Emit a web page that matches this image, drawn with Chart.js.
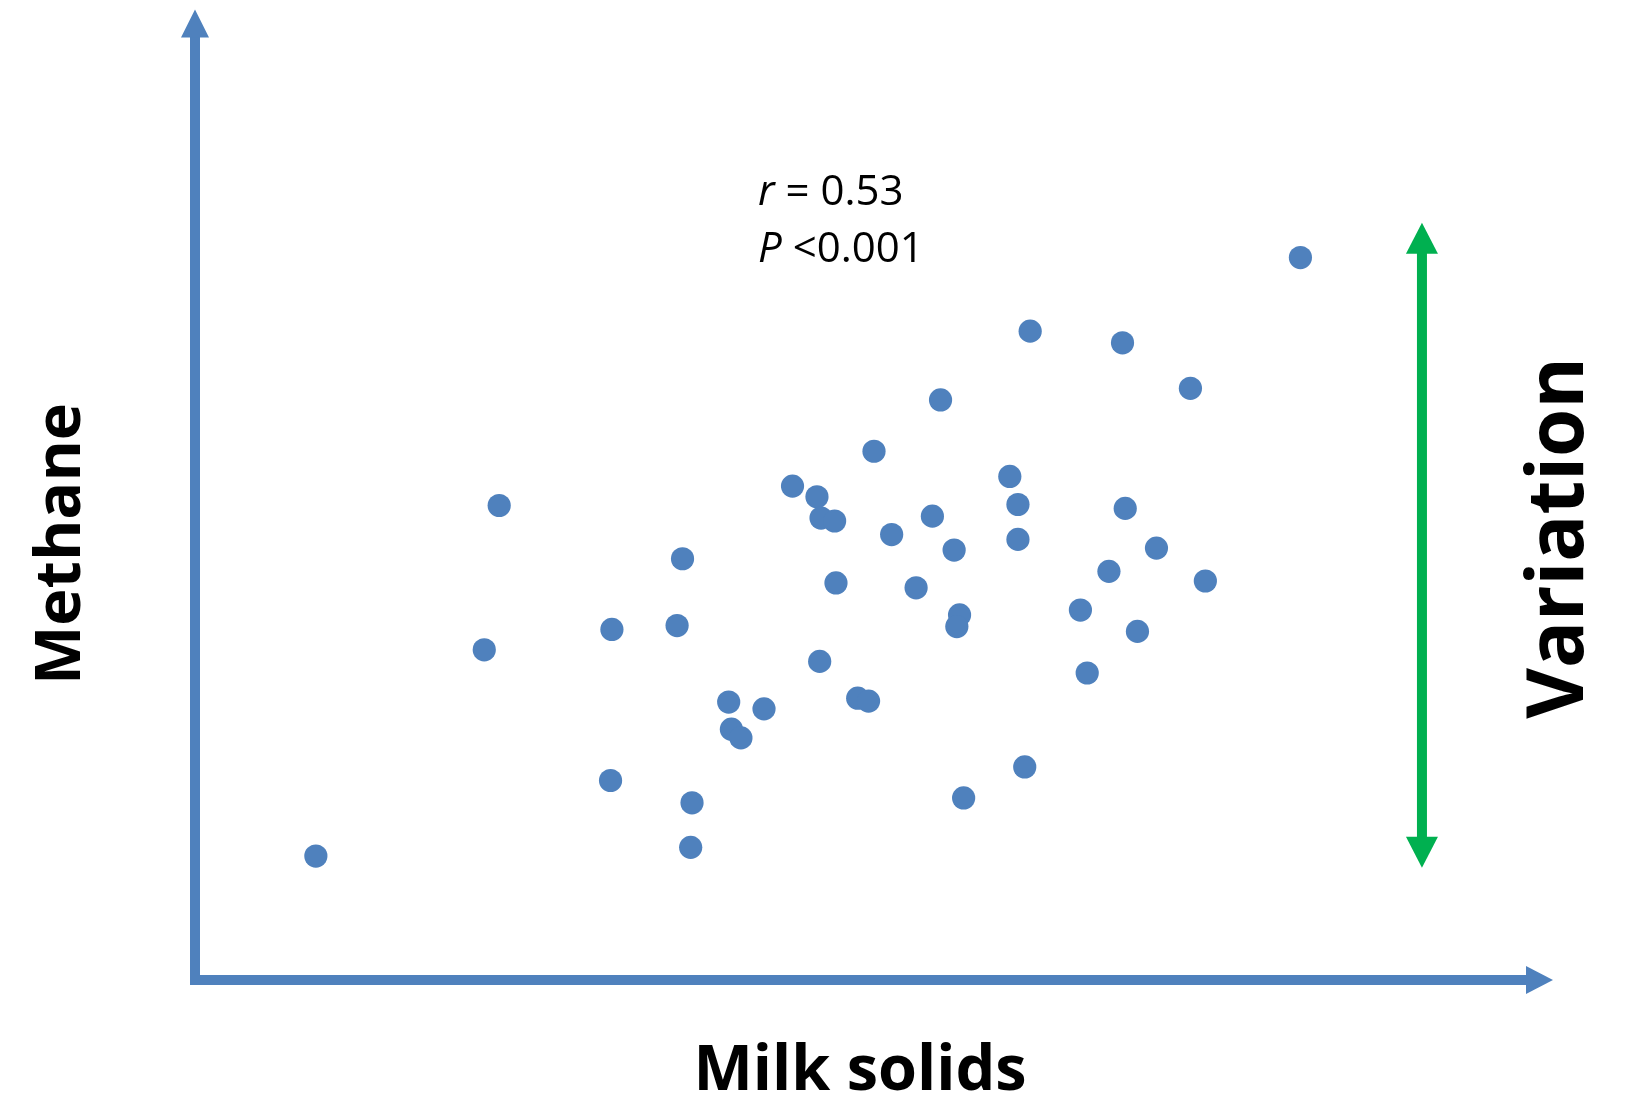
<!DOCTYPE html>
<html>
<head>
<meta charset="utf-8">
<script src="https://cdn.jsdelivr.net/npm/chart.js@4.4.1/dist/chart.umd.min.js"></script>
<style>
  html, body { margin: 0; padding: 0; background: #ffffff; }
  #wrap { width: 1626px; height: 1100px; position: relative; }
</style>
</head>
<body>
<div id="wrap"><canvas id="c"></canvas></div>
<script>
// Milk solids (x) and methane (y), arbitrary units
const milkSolids = [81.4, 61.5, 68.3, 73.3, 54.9, 50.0, 60.0, 44.0, 45.8, 60.6,
  22.4, 68.5, 46.1, 47.1, 54.3, 51.3, 60.6, 70.8, 55.9, 35.9,
  67.3, 74.4, 47.2, 53.1, 56.3, 65.2, 56.1, 30.7, 35.5, 69.4,
  21.3, 46.0, 65.7, 48.8, 49.6, 39.3, 41.9, 39.5, 40.2, 61.1,
  30.6, 56.6, 36.6, 36.5, 8.9];
const methane = [74.6, 67.0, 65.8, 61.1, 59.9, 54.6, 52.0, 51.0, 49.9, 49.1,
  49.0, 48.7, 47.7, 47.4, 47.9, 46.0, 45.5, 44.6, 44.4, 43.5,
  42.2, 41.2, 41.0, 40.5, 37.7, 38.2, 36.5, 36.2, 36.6, 36.0,
  34.1, 32.9, 31.7, 29.1, 28.8, 28.7, 28.0, 25.9, 25.0, 22.0,
  20.6, 18.8, 18.3, 13.7, 12.8];
const xLabel = 'Milk solids';
const yLabel = 'Methane';
const sideLabel = 'Variation';
const statR = '0.53';
const statP = '<0.001';
// Variation arrow span (in data units)
const variationX = 90.35;
const variationRange = [11.6, 78.2];

const BLUE = '#4F81BD';
const GREEN = '#00B050';

function arrowHead(ctx, tx, ty, dx, dy, len, half) {
  const bx = tx - dx * len, by = ty - dy * len;
  const px = -dy, py = dx;
  ctx.beginPath();
  ctx.moveTo(tx, ty);
  ctx.lineTo(bx + px * half, by + py * half);
  ctx.lineTo(bx - px * half, by - py * half);
  ctx.closePath();
  ctx.fill();
}

const decor = {
  id: 'decor',
  beforeDatasetsDraw(chart) {
    const ctx = chart.ctx;
    const a = chart.chartArea;
    const xs = chart.scales.x, ys = chart.scales.y;
    const ox = xs.getPixelForValue(0), oy = ys.getPixelForValue(0);
    const topTip = a.top - 2;
    ctx.save();
    ctx.fillStyle = BLUE;
    // y axis
    ctx.fillRect(ox - 5, topTip + 27, 10, oy + 5 - (topTip + 27));
    arrowHead(ctx, ox, topTip, 0, -1, 28, 14);
    // x axis
    ctx.fillRect(ox - 5, oy - 5, a.right - 27 - (ox - 5), 10);
    arrowHead(ctx, a.right, oy, 1, 0, 27, 14);

    // Variation double arrow
    ctx.fillStyle = GREEN;
    const gx = xs.getPixelForValue(variationX);
    const gTop = ys.getPixelForValue(variationRange[1]);
    const gBot = ys.getPixelForValue(variationRange[0]);
    ctx.fillRect(gx - 5, gTop + 30, 10, gBot - gTop - 60);
    arrowHead(ctx, gx, gTop, 0, -1, 31, 16);
    arrowHead(ctx, gx, gBot, 0, 1, 31, 16);

    // texts
    ctx.fillStyle = '#000000';
    ctx.textBaseline = 'alphabetic';
    ctx.textAlign = 'left';
    const fs = 42;
    const x0 = 758;
    ctx.font = 'italic ' + fs + 'px "Open Sans"';
    ctx.fillText('r', x0, 205);
    let w = ctx.measureText('r').width;
    ctx.font = fs + 'px "Open Sans"';
    ctx.fillText(' = ' + statR, x0 + w, 205);
    ctx.font = 'italic ' + fs + 'px "Open Sans"';
    ctx.fillText('P', 758, 262);
    w = ctx.measureText('P').width;
    ctx.font = fs + 'px "Open Sans"';
    ctx.fillText(' ' + statP, 758 + w, 262);

    // axis labels
    ctx.font = 'bold 63px "Open Sans"';
    ctx.textAlign = 'center';
    ctx.fillText(xLabel, 860, 1090);

    ctx.save();
    ctx.translate(80, 544);
    ctx.rotate(-Math.PI / 2);
    ctx.fillText(yLabel, 0, 0);
    ctx.restore();

    ctx.save();
    ctx.font = 'bold 78px "Open Sans"';
    ctx.translate(1583, 538);
    ctx.rotate(-Math.PI / 2);
    ctx.fillText(sideLabel, 0, 0);
    ctx.restore();

    ctx.restore();
  }
};

new Chart(document.getElementById('c'), {
  type: 'scatter',
  data: {
    datasets: [{
      data: milkSolids.map((v, i) => ({ x: v, y: methane[i] })),
      backgroundColor: BLUE,
      borderWidth: 0,
      pointRadius: 11.6,
      pointHoverRadius: 11.6,
      clip: false
    }]
  },
  options: {
    responsive: true,
    maintainAspectRatio: false,
    animation: false,
    events: [],
    layout: { padding: { left: 195, right: 73, top: 4, bottom: 120 } },
    plugins: { legend: { display: false }, tooltip: { enabled: false }, title: { display: false } },
    scales: {
      x: { type: 'linear', min: 0, max: 100, display: false },
      y: { type: 'linear', min: 0, max: 100, display: false }
    }
  },
  plugins: [decor]
});
</script>
</body>
</html>
